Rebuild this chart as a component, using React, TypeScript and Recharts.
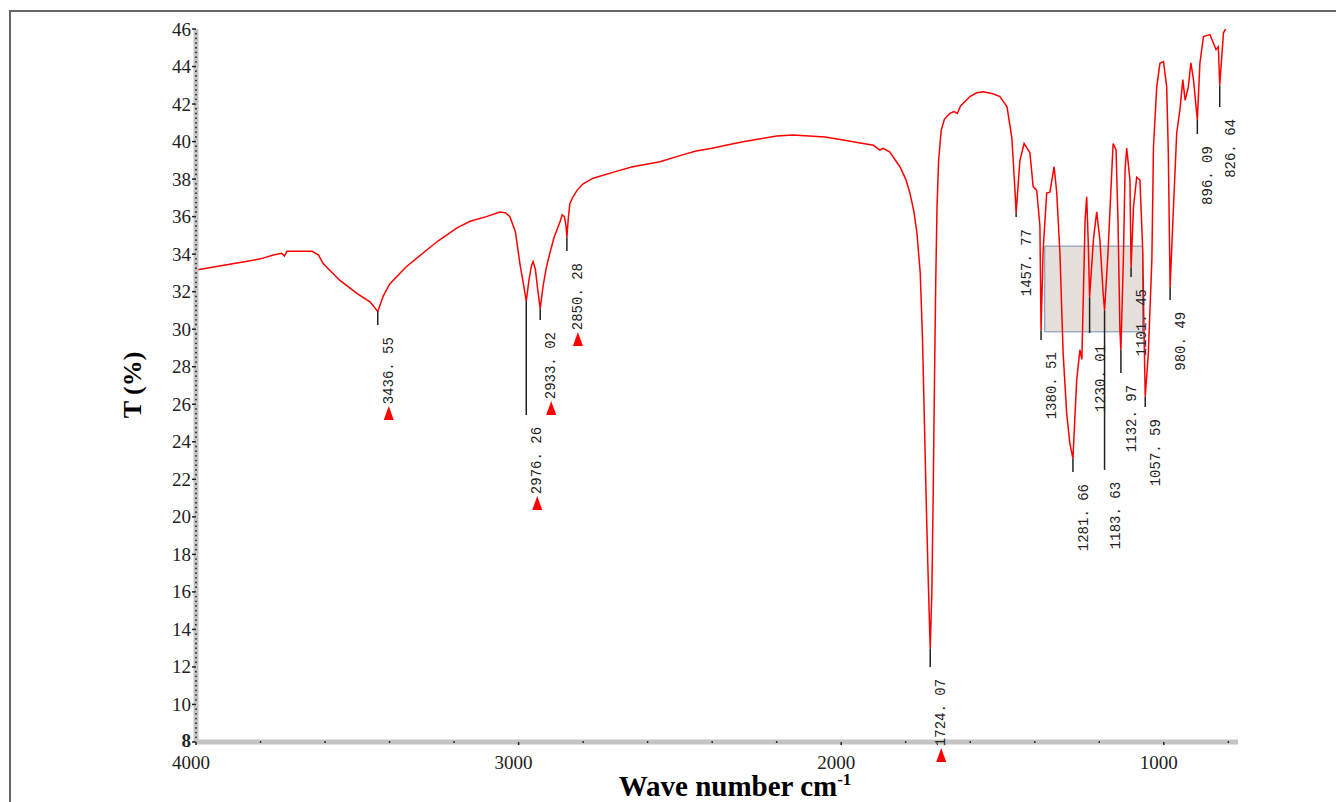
import React from 'react';
import {
  LineChart,
  Line,
  XAxis,
  YAxis,
  ReferenceLine,
  ReferenceDot,
  ReferenceArea
} from 'recharts';

// spectrum (wave number cm-1, T %)
const wavenumbers = [
  4000, 3950, 3900, 3850, 3800, 3760, 3735, 3726, 3718, 3640, 3620, 3606, 3554, 3500, 3460, 3436.55,
  3420, 3400, 3350, 3296, 3250, 3191, 3150, 3100, 3058, 3040, 3027, 3010, 2996, 2985, 2976.26,
  2968, 2960, 2955, 2948, 2940, 2933.02, 2925, 2915, 2903, 2890, 2881, 2870, 2865, 2858, 2853, 2850.28,
  2846, 2841, 2831, 2819, 2800, 2769, 2700, 2650, 2562, 2500, 2450, 2400, 2354, 2300, 2250, 2200,
  2149, 2100, 2050, 1994, 1950, 1900, 1880, 1870, 1850, 1818, 1800, 1787, 1775, 1765, 1755, 1748,
  1742, 1736, 1730, 1724.07, 1719, 1715, 1711, 1707, 1703, 1698, 1690, 1680, 1663, 1650, 1640, 1630,
  1601, 1580, 1560, 1530, 1508, 1486, 1471, 1461, 1457.77, 1446, 1433, 1415, 1405, 1394, 1384, 1380.51,
  1374, 1363, 1353, 1340, 1332, 1322, 1312, 1301, 1291, 1281.66, 1270, 1260, 1254, 1244, 1239, 1234,
  1230.01, 1218, 1208, 1198, 1188, 1183.63, 1173, 1161, 1157, 1148, 1142, 1136, 1132.97, 1125, 1120,
  1115, 1105, 1101.45, 1094, 1084, 1074, 1065, 1062, 1057.59, 1048, 1037, 1032, 1022, 1012, 1001,
  991, 986, 980.49, 970, 960, 950, 941, 934, 924, 916, 908, 896.09, 888, 877, 857, 838, 831, 826.64,
  815, 805, 800
];

const transmittance = [
  33.15, 33.3, 33.45, 33.6, 33.75, 33.95, 34.05, 33.9, 34.15, 34.15, 33.95, 33.5, 32.6, 31.9, 31.45, 30.95,
  31.75, 32.4, 33.3, 34.06, 34.7, 35.4, 35.75, 36.0, 36.25, 36.2, 36.0, 35.2, 33.5, 32.4, 31.5,
  32.6, 33.4, 33.6, 33.2, 32.0, 31.1, 32.2, 33.2, 34.06, 34.9, 35.3, 35.8, 36.1, 36.0, 35.5, 34.9,
  35.9, 36.7, 37.06, 37.4, 37.75, 38.05, 38.4, 38.65, 38.93, 39.25, 39.5, 39.65, 39.82, 40.0, 40.15, 40.3,
  40.35, 40.3, 40.25, 40.08, 39.95, 39.8, 39.55, 39.64, 39.45, 38.66, 38.0, 37.26, 36.3, 35.1, 33.0, 29.5,
  25.0, 20.5, 16.5, 13.0, 16.0, 21.0, 27.0, 32.5, 36.5, 39.0, 40.6, 41.2, 41.5, 41.6, 41.5, 41.9,
  42.4, 42.6, 42.65, 42.55, 42.4, 41.85, 40.2, 37.3, 36.2, 39.0, 39.9, 39.4, 37.6, 37.4, 35.5, 29.95,
  34.2, 37.26, 37.3, 38.66, 37.3, 34.06, 28.7, 25.5, 23.9, 23.1, 27.3, 28.9, 28.4, 35.8, 37.06, 34.5,
  31.7, 34.8, 36.26, 34.75, 31.9, 31.0, 34.06, 38.5, 39.9, 39.55, 35.8, 29.95, 28.9, 34.0, 38.5,
  39.65, 37.95, 33.3, 36.5, 38.1, 37.95, 34.06, 30.5, 26.4, 28.7, 33.7, 39.7, 42.9, 44.17, 44.26,
  42.9, 39.4, 32.25, 36.5, 40.46, 41.7, 43.3, 42.2, 42.9, 44.2, 43.3, 41.15, 44.2, 45.6, 45.7, 44.9, 45.05, 43.0,
  45.8, 46.1, 46.2
];

// peak annotations
const peakWn = [3436.55, 2976.26, 2933.02, 2850.28, 1724.07, 1457.77, 1380.51, 1281.66, 1230.01, 1183.63, 1132.97, 1101.45, 1057.59, 980.49, 896.09, 826.64];
const peakLabels = ['3436. 55', '2976. 26', '2933. 02', '2850. 28', '1724. 07', '1457. 77', '1380. 51', '1281. 66', '1230. 01', '1183. 63', '1132. 97', '1101. 45', '1057. 59', '980. 49', '896. 09', '826. 64'];
const peakTop = [30.95, 31.5, 31.1, 34.9, 13.0, 36.2, 29.95, 23.1, 31.7, 31.0, 28.9, 33.3, 26.4, 32.25, 41.15, 43.0];
const peakBottom = [30.22, 25.43, 30.49, 34.17, 12.0, 35.98, 29.42, 22.39, 29.8, 22.5, 27.67, 32.78, 25.85, 31.56, 40.4, 41.84];
const peakArrow = [true, true, true, true, true, false, false, false, false, false, false, false, false, false, false, false];

// shaded selection box
const boxWn = [1369, 1066];
const boxT = [29.86, 34.43];

const yMajor = [8, 10, 12, 14, 16, 18, 20, 22, 24, 26, 28, 30, 32, 34, 36, 38, 40, 42, 44, 46];
const xMajor = [4000, 3000, 2000, 1000];

const yMinor: number[] = [];
for (let i = 32; i <= 184; i++) if (i % 8 !== 0) yMinor.push(i / 4);
const xMinor: number[] = [];
for (let v = 800; v < 4000; v += 200) if (v % 1000 !== 0) xMinor.push(v);

const data = wavenumbers.map((wn, i) => ({ wn, t: transmittance[i] }));

const serif = "'Liberation Serif', 'Times New Roman', serif";
const red = '#ff0000';

const YTick = ({ x, y, payload }: any) => {
  const v = payload.value;
  if (!yMajor.includes(v)) return <circle cx={x} cy={y} r={0.9} fill="#222" />;
  const bottom = v === 8;
  return (
    <g>
      <line x1={x - 4} x2={x} y1={y} y2={y} stroke="#222" strokeWidth={1.5} />
      <text
        x={x - 5}
        y={bottom ? y - 2 : y}
        textAnchor="end"
        dominantBaseline="central"
        fontFamily={serif}
        fontSize={19}
        fontWeight={bottom ? 700 : 400}
        fill="#222"
      >
        {v}
      </text>
    </g>
  );
};

const XTick = ({ x, y, payload }: any) => {
  const v = payload.value;
  if (!xMajor.includes(v)) return <circle cx={x} cy={y} r={0.9} fill="#222" />;
  return (
    <g>
      <line x1={x} x2={x} y1={y} y2={y + 3} stroke="#222" strokeWidth={1.5} />
      <text x={x - 5} y={y + 20} textAnchor="middle" dominantBaseline="central" fontFamily={serif} fontSize={19} fill="#222">
        {v}
      </text>
    </g>
  );
};

const PeakLabel = ({ cx, cy, text, arrow }: any) => {
  const tx = cx + 11;
  const ty = cy + 12;
  return (
    <g>
      <text
        transform={`translate(${tx},${ty}) rotate(-90)`}
        textAnchor="end"
        dominantBaseline="central"
        fontFamily="'Liberation Mono', 'DejaVu Sans Mono', monospace"
        fontSize={14}
        fill="#222"
      >
        {text}
      </text>
      {arrow && <polygon points={`${tx},${ty + 69} ${tx - 5},${ty + 83} ${tx + 5},${ty + 83}`} fill={red} />}
    </g>
  );
};

const App: React.FC = () => {
  return (
    <div style={{ position: 'relative', width: 1336, height: 794, overflow: 'hidden', background: '#fff' }}>
      <div
        style={{
          position: 'absolute',
          left: 1,
          top: 2,
          width: 2000,
          height: 2000,
          borderTop: '2px solid #666',
          borderLeft: '2px solid #666'
        }}
      />
      <div style={{ position: 'absolute', left: 0, top: 0 }}>
        <LineChart width={1336} height={794} data={data} margin={{ top: 21, right: 106, left: 128, bottom: 20 }}>
          <XAxis
            dataKey="wn"
            type="number"
            domain={[770, 4000]}
            reversed
            allowDataOverflow
            ticks={[...xMajor, ...xMinor]}
            interval={0}
            tick={<XTick />}
            tickLine={false}
            tickSize={0}
            tickMargin={0}
            height={40}
            axisLine={{ stroke: '#c4c4c4', strokeWidth: 5 }}
          />
          <YAxis
            type="number"
            domain={[8, 46]}
            allowDataOverflow
            ticks={[...yMajor, ...yMinor]}
            interval={0}
            tick={<YTick />}
            tickLine={false}
            tickSize={0}
            tickMargin={0}
            width={60}
            axisLine={{ stroke: '#c4c4c4', strokeWidth: 5 }}
          />
          <ReferenceArea
            x1={boxWn[0]}
            x2={boxWn[1]}
            y1={boxT[0]}
            y2={boxT[1]}
            fill="#e6e0dd"
            fillOpacity={1}
            stroke="#6f8fb0"
            strokeWidth={1}
            ifOverflow="visible"
          />
          <Line
            type="linear"
            dataKey="t"
            stroke={red}
            strokeWidth={1.5}
            dot={false}
            activeDot={false}
            isAnimationActive={false}
          />
          {peakWn.map((wn, i) => (
            <ReferenceLine
              key={`l${i}`}
              segment={[{ x: wn, y: peakTop[i] }, { x: wn, y: peakBottom[i] }]}
              stroke="#222"
              strokeWidth={1.5}
              ifOverflow="visible"
            />
          ))}
          {peakWn.map((wn, i) => (
            <ReferenceDot
              key={`d${i}`}
              x={wn}
              y={peakBottom[i]}
              r={0}
              ifOverflow="visible"
              shape={(p: any) => <PeakLabel cx={p.cx} cy={p.cy} text={peakLabels[i]} arrow={peakArrow[i]} />}
            />
          ))}
        </LineChart>
      </div>
      <div
        style={{
          position: 'absolute',
          left: 125,
          top: 377,
          transform: 'translate(-50%, -50%) rotate(-90deg)',
          fontFamily: serif,
          fontWeight: 700,
          fontSize: 26,
          whiteSpace: 'nowrap',
          lineHeight: 1
        }}
      >
        T (%)
      </div>
      <div
        style={{
          position: 'absolute',
          left: 727,
          top: 779,
          transform: 'translate(-50%, -50%)',
          fontFamily: serif,
          fontWeight: 700,
          fontSize: 29,
          whiteSpace: 'nowrap',
          lineHeight: 0.8
        }}
      >
        Wave number cm<span style={{ fontSize: 17, position: 'relative', top: -11 }}>-1</span>
      </div>
    </div>
  );
};

export default App;
